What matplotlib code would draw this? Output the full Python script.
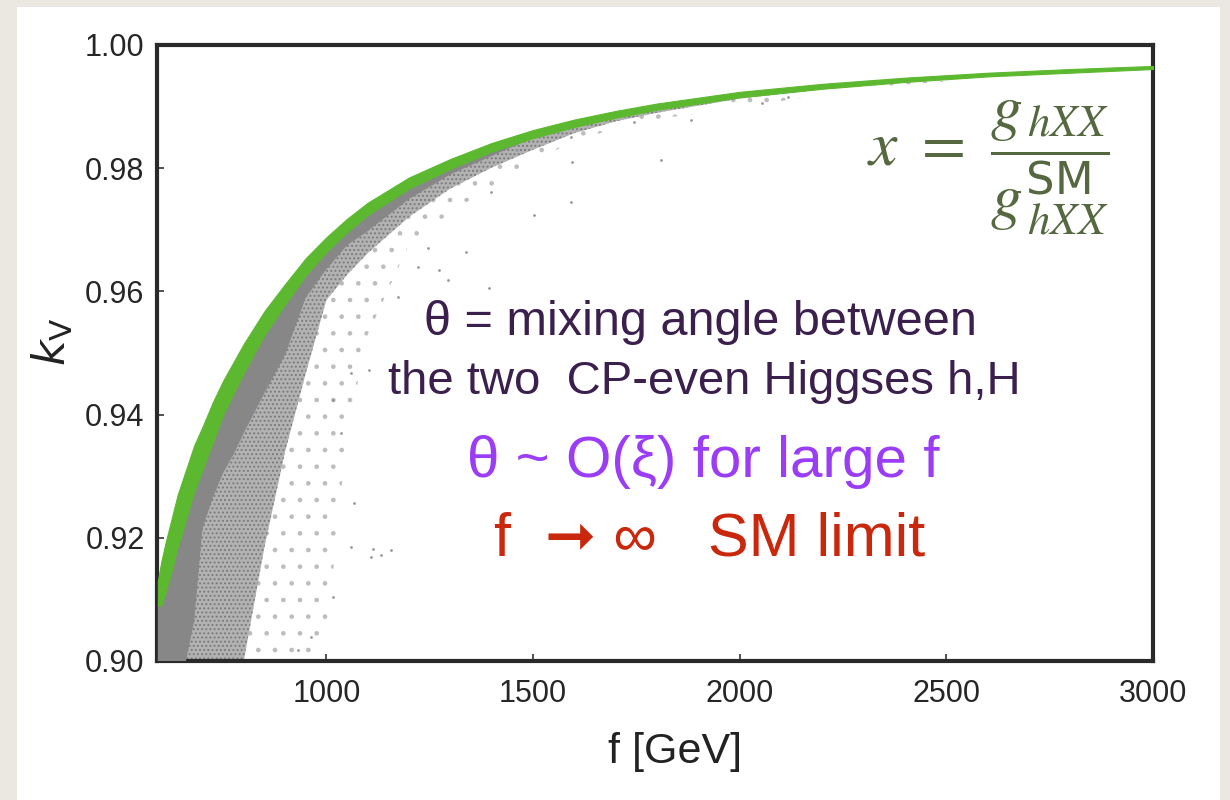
import matplotlib.pyplot as plt
from matplotlib.patches import Rectangle

plt.rcParams['hatch.linewidth'] = 0.9
plt.rcParams['mathtext.fontset'] = 'stix'

# f grid shared by the green band and the grey scan region
f_grid = [592, 600, 610, 625, 640, 660, 680, 700, 725, 750, 775, 800, 850, 900, 950,
          1000, 1050, 1100, 1200, 1300, 1400, 1500, 1600, 1700, 1800, 2000, 2200,
          2400, 2600, 2800, 3000]

# green band: upper and lower edge of kV
band_hi = [0.913, 0.916, 0.919, 0.923, 0.927, 0.931, 0.935, 0.938, 0.942, 0.9455,
           0.9485, 0.9515, 0.9568, 0.9612, 0.9654, 0.9688, 0.9718, 0.9744, 0.9785,
           0.9815, 0.9841, 0.9862, 0.9879, 0.9893, 0.9905, 0.9924, 0.9937, 0.9947,
           0.9955, 0.9961, 0.9966]
band_lo = [0.909, 0.909, 0.911, 0.9145, 0.9185, 0.923, 0.9275, 0.931, 0.9355, 0.940,
           0.9434, 0.9468, 0.9529, 0.9579, 0.9626, 0.9664, 0.9696, 0.9724, 0.9767,
           0.9799, 0.9827, 0.9849, 0.9867, 0.9882, 0.9895, 0.9915, 0.9929, 0.9940,
           0.9949, 0.9955, 0.9961]

# grey scan points: lowest kV reached by the dense, speckled and sparse parts
dense_floor = [0.900, 0.900, 0.900, 0.900, 0.900, 0.900, 0.9065, 0.9215, 0.9265,
               0.9305, 0.9335, 0.937, 0.9435, 0.9497, 0.959, 0.9636, 0.9675, 0.9698,
               0.975, 0.979, 0.982, 0.9849, 0.9867, 0.9882, 0.9895, 0.9915, 0.9929,
               0.9940, 0.9949, 0.9955, 0.9961]
speckle_floor = [0.900, 0.900, 0.900, 0.900, 0.900, 0.900, 0.900, 0.900, 0.900,
                 0.900, 0.900, 0.900, 0.9185, 0.934, 0.9467, 0.9586, 0.9627, 0.9662,
                 0.9721, 0.9767, 0.9801, 0.983, 0.9857, 0.9876, 0.9890, 0.9913,
                 0.9928, 0.9940, 0.9949, 0.9955, 0.9961]
sparse_floor = [0.900, 0.900, 0.900, 0.900, 0.900, 0.900, 0.900, 0.900, 0.900,
                0.900, 0.900, 0.900, 0.900, 0.900, 0.900, 0.904, 0.937, 0.953,
                0.9677, 0.9728, 0.9771, 0.981, 0.9845, 0.9864, 0.988, 0.9898, 0.9920,
                0.9936, 0.9945, 0.9953, 0.9961]

# isolated points away from the bulk
out_f = [1809, 1591, 1593, 1591, 1743, 1881, 2055, 2118, 1113, 1132, 1398, 1502,
         1338, 1393, 1294, 1272, 1221, 1245, 1173, 1156, 1108, 1059, 1016, 962,
         1035, 1067, 1103, 1059, 1016, 931, 1460, 1680, 1950, 2250]
out_kv = [0.9813, 0.9851, 0.9810, 0.9745, 0.9875, 0.9878, 0.9906, 0.9916, 0.9182,
          0.9172, 0.9761, 0.9724, 0.9664, 0.9606, 0.9619, 0.9635, 0.9640, 0.9670,
          0.9591, 0.9180, 0.9169, 0.9185, 0.9104, 0.9039, 0.9370, 0.9256, 0.9472,
          0.9468, 0.9424, 0.9018, 0.9830, 0.9885, 0.9915, 0.9935]

xticks = [1000, 1500, 2000, 2500, 3000]
yticks = [0.90, 0.92, 0.94, 0.96, 0.98, 1.00]

fig = plt.figure(figsize=(12.3, 8), dpi=100)
fig.patch.set_facecolor('#ebe8e1')
fig.patches.append(Rectangle((17 / 1230, 0), 1203 / 1230, 793 / 800,
                             transform=fig.transFigure, facecolor='white',
                             edgecolor='none', zorder=-5))

ax = fig.add_axes([157 / 1230, 1 - 661 / 800, 996 / 1230, 616 / 800])
ax.set_zorder(2)
ax.set_facecolor('white')

ax.fill_between(f_grid, sparse_floor, band_lo, facecolor='white',
                edgecolor='#bdbdbd', hatch='.', linewidth=0, zorder=1)
ax.fill_between(f_grid, speckle_floor, band_lo, facecolor='#b2b2b2',
                edgecolor='#7a7a7a', hatch='....', linewidth=0, zorder=2)
ax.fill_between(f_grid, dense_floor, band_lo, facecolor='#878787',
                edgecolor='none', linewidth=0, zorder=3)
ax.scatter(out_f, out_kv, s=4, color='#999999', linewidths=0, zorder=4)
ax.fill_between(f_grid, band_lo, band_hi, color='#5cb92f', linewidth=0.8,
                edgecolor='#5cb92f', zorder=5)

ax.set_xlim(590, 3000)
ax.set_ylim(0.90, 1.00)
ax.set_xticks(xticks)
ax.set_yticks(yticks)
ax.set_yticklabels([f'{v:.2f}' for v in yticks])
sans = ['Liberation Sans', 'DejaVu Sans']
for lab in ax.get_xticklabels() + ax.get_yticklabels():
    lab.set_family(sans)
    lab.set_fontsize(22)
    lab.set_color('#262626')
ax.tick_params(axis='x', pad=13)
ax.tick_params(axis='y', pad=9)
ax.tick_params(direction='in', length=5, width=1.2, color='#333333')
for sp in ax.spines.values():
    sp.set_linewidth(3)
    sp.set_color('#2a2a2a')

ax.set_xlabel('f [GeV]', family=sans, fontsize=31, color='#222222')
ax.xaxis.set_label_coords((675 - 157) / 996, -(752 - 661) / 616)
ax.xaxis.label.set_va('center')
ax.set_ylabel(r'$k_{\mathrm{V}}$', fontsize=32, color='#222222',
              math_fontfamily='dejavusans')
ax.yaxis.set_label_coords(-(157 - 52) / 996, (661 - 342) / 616)
ax.yaxis.label.set_va('center')

dark = '#3b1f4d'
fig.text(700 / 1230, 1 - 322 / 800, 'θ = mixing angle between', family=sans,
         fontsize=35, color=dark, ha='center', va='center')
fig.text(704 / 1230, 1 - 382 / 800, 'the two  CP-even Higgses h,H', family=sans,
         fontsize=34, color=dark, ha='center', va='center')
fig.text(703 / 1230, 1 - 462 / 800, 'θ ~ O(ξ) for large f', family=sans,
         fontsize=42, color='#9b3cf6', ha='center', va='center')
fig.text(710 / 1230, 1 - 540 / 800, 'f  ➞ ∞   SM limit', family=sans,
         fontsize=44, color='#c9280c', ha='center', va='center')

fig.text(988 / 1230, 1 - 168 / 800,
         r'$x\ =\ \dfrac{g_{\,hXX}}{g^{\mathregular{SM}}_{\,hXX}}$',
         fontsize=46, color='#556840', ha='center', va='center')

fig.savefig('out.png', dpi=100, facecolor=fig.get_facecolor())
